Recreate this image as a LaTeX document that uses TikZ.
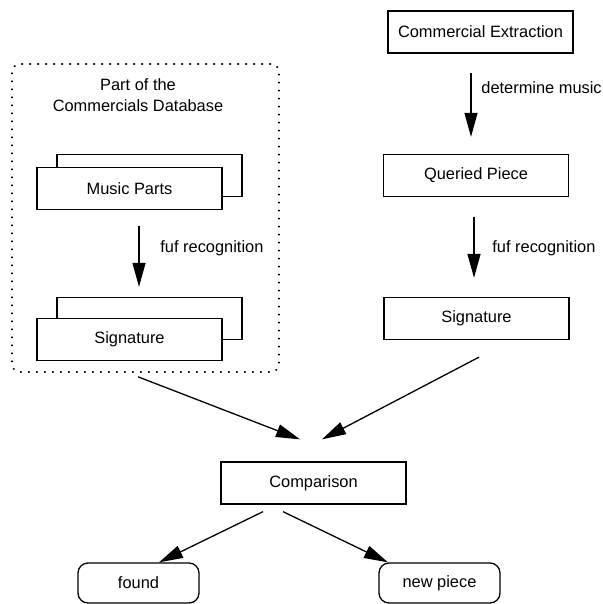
\documentclass[tikz,border=0pt]{standalone}
\usepackage{fontspec}
\setmainfont{Liberation Sans}
\usetikzlibrary{arrows.meta, positioning}
\tikzset{
    box/.style={draw, fill=white, line width=0.65pt, minimum width=92.5pt, minimum height=21pt, inner sep=0pt},
    endbox/.style={box, rounded corners=5pt, minimum width=60.5pt, minimum height=20pt},
    flow/.style={-{Triangle[length=12pt, width=6.5pt]}, line width=0.65pt},
    note/.style={inner sep=0pt, anchor=west},
    group/.style={draw, line width=0.8pt, dash pattern=on 0.8pt off 3.2pt, rounded corners=4pt}
}

\begin{document}
\begin{tikzpicture}[x=0.5pt, y=-0.5pt, font=\fontsize{8.2}{10.5}\selectfont]
    \useasboundingbox (0,0) rectangle (603,604);
    % left: part of the database
    \node[group, minimum width=133.5pt, minimum height=154pt] (db) at (145.5,218) {};
    \node[align=center, inner sep=0pt] (dbtitle) at (138,95.5) {Part of the\\Commercials Database};
    \node[box] (partsB) at (149.5,175.5) {};
    \node[box] (partsF) at (129.5,188.5) {Music Parts};
    \node[box] (sigB) at (149.5,318.5) {};
    \node[box] (sigF) at (129.5,339.5) {Signature};
    \draw[flow] ([xshift=4.75pt, yshift=-8pt]partsF.south) -- ([xshift=-5.25pt, yshift=5pt]sigB.north);
    \node[note] (recL) at (160,248) {fuf recognition};

    % right: query side
    \node[box] (extr) at (480.5,32) {Commercial Extraction};
    \node[box] (query) at (476,175.5) {Queried Piece};
    \node[box] (sigR) at (476.5,318.5) {Signature};
    \draw[flow] ([xshift=-4.75pt, yshift=-9.5pt]extr.south) -- ([xshift=-2.5pt, yshift=8.5pt]query.north);
    \node[note] (detm) at (481,88) {determine music};
    \draw[flow] ([xshift=-1pt, yshift=-10pt]query.south) -- ([xshift=-1.25pt, yshift=9.5pt]sigR.north);
    \node[note] (recR) at (492,248) {fuf recognition};

    % comparison and results
    \node[box] (comp) at (313.5,483) {Comparison};
    \node[endbox] (found) at (138.5,583) {found};
    \node[endbox] (newp) at (439.5,583) {new piece};
    \draw[flow] ([xshift=-3.75pt, yshift=-2pt]db.south) -- ([xshift=-6.75pt, yshift=11pt]comp.north);
    \draw[flow] ([xshift=1.25pt, yshift=-8.5pt]sigR.south) -- ([xshift=4.25pt, yshift=11pt]comp.north);
    \draw[flow] ([xshift=-25.25pt, yshift=-3.5pt]comp.south) -- ([xshift=10.25pt]found.north);
    \draw[flow] ([xshift=-15.25pt, yshift=-3.5pt]comp.south) -- ([xshift=-25.75pt]newp.north);
\end{tikzpicture}
\end{document}
